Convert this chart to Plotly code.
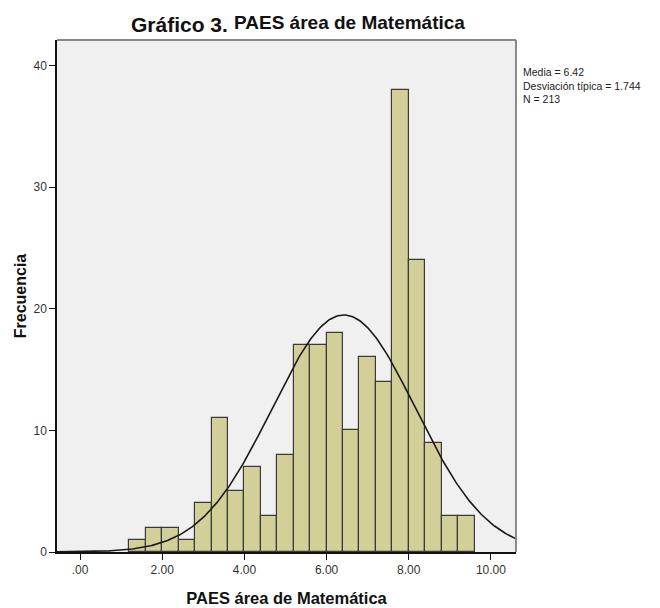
import numpy as np
import plotly.graph_objects as go

# histogram bins (lower edges) and frequencies
bin_starts = [1.2, 1.6, 2.0, 2.4, 2.8, 3.2, 3.6, 4.0, 4.4, 4.8, 5.2,
              5.6, 6.0, 6.4, 6.8, 7.2, 7.6, 8.0, 8.4, 8.8, 9.2]
counts = [1, 2, 2, 1, 4, 11, 5, 7, 3, 8, 17,
          17, 18, 10, 16, 14, 38, 24, 9, 3, 3]
bin_width = 0.4

media = 6.42
desv = 1.744
n_total = 213

x_tickvals = [0, 2, 4, 6, 8, 10]
x_ticktext = [".00", "2.00", "4.00", "6.00", "8.00", "10.00"]
y_tickvals = [0, 10, 20, 30, 40]

x_range = [-0.56, 10.61]
y_range = [0, 42.1]

FONT = "Liberation Sans, Arial, sans-serif"

fig = go.Figure()

fig.add_trace(go.Bar(
    x=[s + bin_width / 2 for s in bin_starts],
    y=counts,
    width=bin_width,
    marker=dict(color="#D3CF98", line=dict(color="#3a3a3a", width=1.2)),
    hoverinfo="x+y",
    showlegend=False,
))

# normal curve from the reported mean / sd
xc = np.linspace(x_range[0], x_range[1], 300)
yc = n_total * bin_width * np.exp(-0.5 * ((xc - media) / desv) ** 2) / (desv * np.sqrt(2 * np.pi))
fig.add_trace(go.Scatter(
    x=xc, y=yc, mode="lines",
    line=dict(color="#1a1a1a", width=1.6),
    hoverinfo="skip", showlegend=False,
))

fig.update_layout(
    width=660, height=608,
    margin=dict(l=57, r=144, t=40, b=56, autoexpand=False),
    paper_bgcolor="white",
    plot_bgcolor="#F0F0F0",
    font=dict(family=FONT, size=12, color="#333333"),
    bargap=0,
    shapes=[
        dict(type="line", xref="paper", yref="paper", x0=0, x1=1, y0=1, y1=1,
             line=dict(color="#8a8a8a", width=2)),
        dict(type="line", xref="paper", yref="paper", x0=1, x1=1, y0=0, y1=1,
             line=dict(color="#8a8a8a", width=2)),
    ],
    annotations=[
        dict(xref="paper", yref="paper", x=0.157, y=1.030,
             xanchor="left", yanchor="middle", showarrow=False,
             text="<b>Gráfico 3.</b>", font=dict(family=FONT, size=21, color="#111111")),
        dict(xref="paper", yref="paper", x=0.382, y=1.035,
             xanchor="left", yanchor="middle", showarrow=False,
             text="<b>PAES área de Matemática</b>", font=dict(family=FONT, size=19, color="#111111")),
        dict(xref="paper", yref="paper", x=1.0, xshift=5, y=0.953,
             xanchor="left", yanchor="top", align="left", showarrow=False,
             text="Media = 6.42<br>Desviación típica = 1.744<br>N = 213",
             font=dict(family=FONT, size=10.5, color="#222222")),
    ],
)

fig.update_xaxes(
    range=x_range, tickvals=x_tickvals, ticktext=x_ticktext,
    showgrid=False, zeroline=False, automargin=False,
    showline=True, linecolor="#111111", linewidth=1.5,
    ticks="outside", ticklen=6, tickcolor="#111111",
    tickfont=dict(family=FONT, size=12, color="#333333"),
    title=dict(text="<b>PAES área de Matemática</b>", standoff=16,
               font=dict(family=FONT, size=16.5, color="#111111")),
)
fig.update_yaxes(
    range=y_range, tickvals=y_tickvals,
    showgrid=False, zeroline=False, automargin=False,
    showline=True, linecolor="#111111", linewidth=1.5,
    ticks="outside", ticklen=6, tickcolor="#111111",
    tickfont=dict(family=FONT, size=12, color="#333333"),
    title=dict(text="<b>Frecuencia</b>", standoff=3,
               font=dict(family=FONT, size=16, color="#111111")),
)

# drop the default page margin so the figure sits at the window's corner
fig.write_html("out.html", config={"displayModeBar": False},
               post_script="document.body.style.margin='0px';")
